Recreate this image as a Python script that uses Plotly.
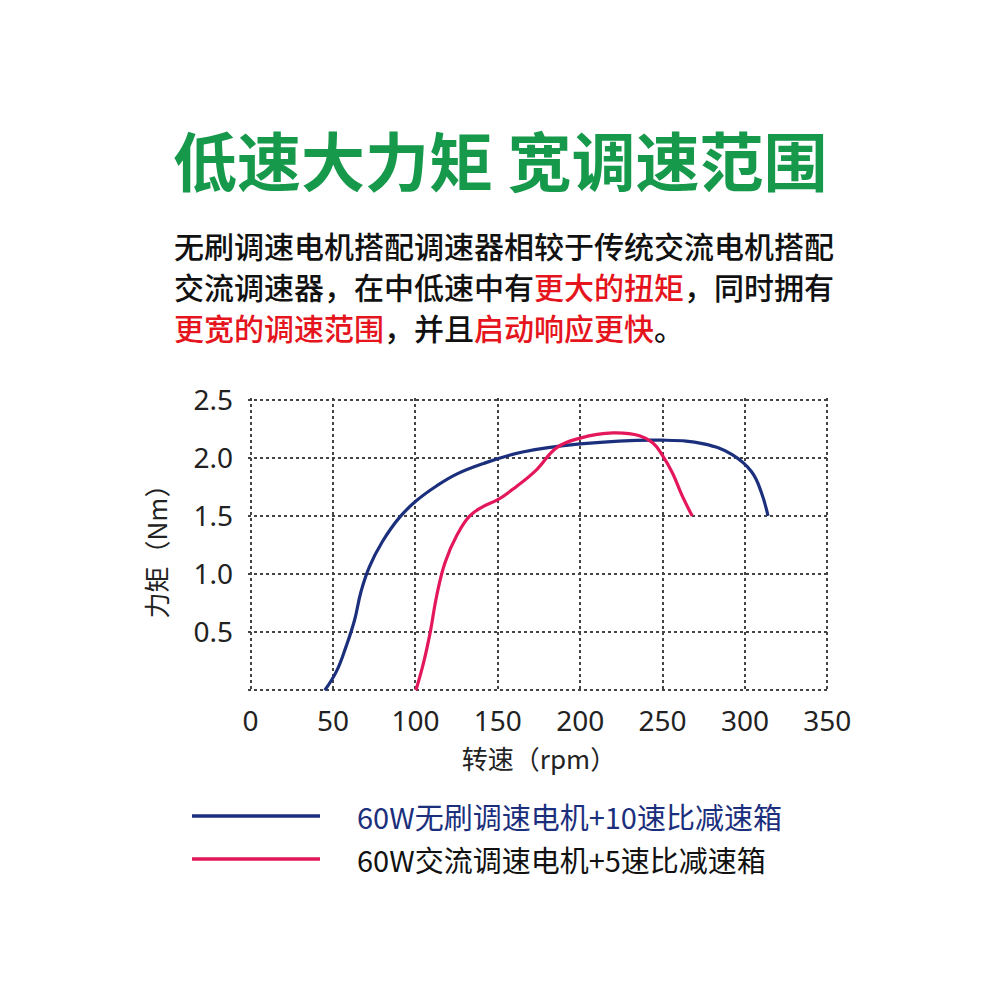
import plotly.graph_objects as go

# torque curves (rpm, Nm)
bldc_rpm = [45, 52, 58, 63, 67, 72, 80, 90.5, 100.5, 113, 125, 141, 165, 200, 250, 275, 292, 304, 310, 314]
bldc_nm = [0.0, 0.16, 0.38, 0.60, 0.85, 1.06, 1.28, 1.49, 1.63, 1.76, 1.86, 1.95, 2.05, 2.12, 2.152, 2.12, 2.03,
           1.88, 1.70, 1.50]

ac_rpm = [100.3, 105, 109, 113, 118, 125, 133, 141, 150, 161, 173, 186, 200, 220, 236, 244, 250, 256, 262, 268]
ac_nm = [0.0, 0.24, 0.50, 0.82, 1.10, 1.33, 1.50, 1.58, 1.64, 1.75, 1.89, 2.09, 2.17, 2.215, 2.19, 2.13, 2.02,
         1.87, 1.67, 1.50]

x_ticks = [0, 50, 100, 150, 200, 250, 300, 350]
y_ticks = [0, 0.5, 1.0, 1.5, 2.0, 2.5]
y_ticktext = ['', '0.5', '1.0', '1.5', '2.0', '2.5']

names = ['60W无刷调速电机+10速比减速箱', '60W交流调速电机+5速比减速箱']

BLUE = '#1b2f7d'
PINK = '#e3175a'
RED = '#e5141d'
GREEN = '#17994b'
CJK = 'Noto Sans CJK SC'

# plot box in figure pixels (page is offset by the 8px body margin)
L, R, T, B = 240, 822, 390, 684


def px(xs):
    return (xs - 8 - L) / (R - L)


def py(ys):
    return (B - (ys - 8)) / (B - T)


fig = go.Figure()
fig.add_trace(go.Scatter(x=bldc_rpm, y=bldc_nm, mode='lines',
                         line=dict(color=BLUE, width=3.2, shape='spline', smoothing=1.2),
                         name=names[0], showlegend=False))
fig.add_trace(go.Scatter(x=ac_rpm, y=ac_nm, mode='lines',
                         line=dict(color=PINK, width=3.2, shape='spline', smoothing=1.2),
                         name=names[1], showlegend=False))

fig.update_layout(
    width=1000, height=1000,
    margin=dict(l=L, r=1000 - R, t=T, b=1000 - B),
    paper_bgcolor='white', plot_bgcolor='white',
    font=dict(family=CJK, color='#222'),
)
fig.update_xaxes(range=[-1.6, 351.6], tickvals=x_ticks, showgrid=True, gridcolor='#444', griddash='dot', gridwidth=1.5,
                 zeroline=False, showline=False, tickfont=dict(size=28, family='Noto Sans', color='#222'),
                 ticklabelstandoff=10,
                 title=dict(text='转速（rpm）', font=dict(size=26, family=CJK, color='#222'), standoff=12))
fig.update_yaxes(range=[-0.015, 2.515], tickvals=y_ticks, ticktext=y_ticktext, showgrid=True, gridcolor='#444',
                 griddash='dot', gridwidth=1.5, zeroline=False, showline=False,
                 tickfont=dict(size=28, family='Noto Sans', color='#222'), ticklabelstandoff=14,
                 title=dict(text='力矩（Nm）', font=dict(size=26, family=CJK, color='#222'), standoff=18))

# headline and description
fig.add_annotation(text='<b>低速大力矩 宽调速范围</b>', xref='paper', yref='paper', x=px(500), y=py(158),
                   xanchor='center', yanchor='middle', showarrow=False,
                   font=dict(size=64, family=CJK, color=GREEN))

lines = [
    '无刷调速电机搭配调速器相较于传统交流电机搭配',
    f'交流调速器，在中低速中有<span style="color:{RED}">更大的扭矩</span>，同时拥有',
    f'<span style="color:{RED}">更宽的调速范围</span>，并且<span style="color:{RED}">启动响应更快</span>。',
]
for i, t in enumerate(lines):
    fig.add_annotation(text=t, xref='paper', yref='paper', x=px(172), y=py(245 + i * 41),
                       xanchor='left', yanchor='middle', showarrow=False,
                       font=dict(size=30, family=CJK, color='#111', weight=500))

# custom legend
legend_rows = [(BLUE, BLUE, 816), (PINK, '#111', 859)]
for (lc, tc, ypix), name in zip(legend_rows, names):
    fig.add_shape(type='line', xref='paper', yref='paper', x0=px(192), x1=px(320), y0=py(ypix), y1=py(ypix),
                  line=dict(color=lc, width=3.5))
    fig.add_annotation(text=name, xref='paper', yref='paper', x=px(355), y=py(ypix),
                       xanchor='left', yanchor='middle', showarrow=False,
                       font=dict(size=29, family=CJK, color=tc))

fig.write_html('out.html')
